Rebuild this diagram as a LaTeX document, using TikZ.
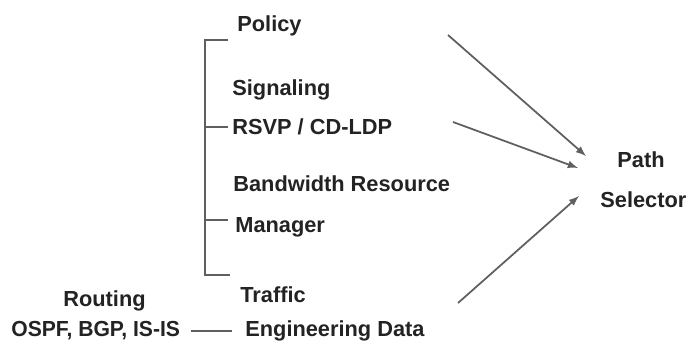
\documentclass[tikz,border=0pt]{standalone}
\usepackage{fontspec}
\setmainfont{Liberation Sans}
\usepackage{tikz}
\usetikzlibrary{arrows}
\definecolor{ink}{RGB}{35,35,35}
\definecolor{wire}{RGB}{95,95,95}
\tikzset{
	label/.style    = {anchor = base west, inner sep = 0pt, text = ink,
		font = \fontsize{12.4}{14}\selectfont\bfseries},
	bracket/.style  = {draw = wire, line width = 0.9pt},
	feed/.style     = {draw = wire, line width = 1pt, ->, >=latex}
}

\begin{document}
\begin{tikzpicture}[x=0.02cm, y=-0.02cm]
	\useasboundingbox (0,0) rectangle (689,347);
	\draw
	node at (237,32)[label] (pol) {Policy}
	node at (232,96)[label] (sig) {Signaling}
	node at (232,135)[label] (rsvp) {RSVP / CD-LDP}
	node at (233,192)[label] (bw) {Bandwidth Resource}
	node at (235,233)[label] (mgr) {Manager}
	node at (240,302)[label] (te) {Traffic}
	node at (245,337)[label] (ted) {Engineering Data}
	node at (63,306)[label] (rt) {Routing}
	node at (11,337)[label, xscale=0.97] (ospf) {OSPF, BGP, IS-IS}
	node at (617,168)[label] (path) {Path}
	node at (600,208)[label] (sel) {Selector};

	% bracket
	\draw[bracket] (228,40) -- (205,40) -- (205,275) -- (230,275);
	\draw[bracket] (205,127) -- (228,127);
	\draw[bracket] (205,220) -- (228,220);
	\coordinate (o1) at (191,331);
	\coordinate (o2) at (232,331);
	\draw[bracket, line width=0.7pt] (o1) -- (o2);

	% inputs of the selector
	\coordinate (a1) at (448,35);
	\coordinate (a2) at (453,122);
	\coordinate (a3) at (458,303);
	\coordinate (s1) at (586,156);
	\coordinate (s2) at (578,168);
	\coordinate (s3) at (579,196);
	\draw[feed] (a1) -- (s1);
	\draw[feed] (a2) -- (s2);
	\draw[feed] (a3) -- (s3);
\end{tikzpicture}
\end{document}
